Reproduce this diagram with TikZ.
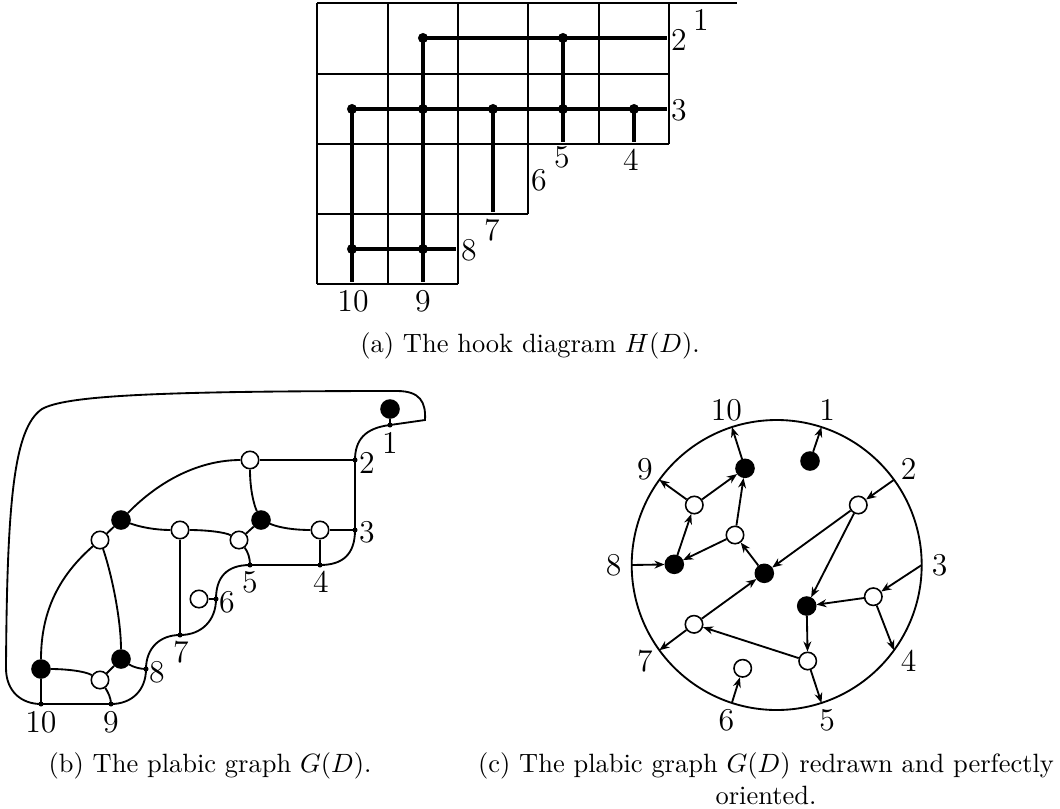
\documentclass[tikz,border=0pt]{standalone}
\usetikzlibrary{arrows.meta}
\begin{document}
\begin{tikzpicture}[x=0.378pt,y=-0.378pt,
  gline/.style={line width=0.75pt},
  hookln/.style={line width=1.15pt},
  hdot/.style={circle,fill=black,inner sep=0pt,minimum size=3.8pt},
  bdot/.style={circle,fill=black,inner sep=0pt,minimum size=1.9pt},
  wv/.style={circle,draw=black,fill=white,line width=0.6pt,inner sep=0pt,minimum size=6.6pt},
  bv/.style={circle,draw=black,fill=black,line width=0.6pt,inner sep=0pt,minimum size=6.8pt},
  lab/.style={font=\large,inner sep=0pt},
  pe/.style={line width=0.7pt},
  arr/.style={line width=0.7pt,-{Stealth[length=3.8pt,width=3pt]}},
]
\useasboundingbox (0,0) rectangle (1060,808);

% ---------- (a) hook diagram ----------
\draw[gline] (317,3) -- (737,3);
\draw[gline] (317,74) -- (669,74);
\draw[gline] (317,144) -- (669,144);
\draw[gline] (317,214) -- (528,214);
\draw[gline] (317,284) -- (458,284);
\draw[gline] (317,3) -- (317,284);
\draw[gline] (388,3) -- (388,284);
\draw[gline] (458,3) -- (458,284);
\draw[gline] (528,3) -- (528,214);
\draw[gline] (599,3) -- (599,144);
\draw[gline] (669,3) -- (669,144);

\node[hdot] (d12) at (423,38) {};
\node[hdot] (d14) at (563,38) {};
\node[hdot] (d21) at (352,109) {};
\node[hdot] (d22) at (423,109) {};
\node[hdot] (d23) at (493,109) {};
\node[hdot] (d24) at (563,109) {};
\node[hdot] (d25) at (634,109) {};
\node[hdot] (d41) at (352,249) {};
\node[hdot] (d42) at (423,249) {};

\coordinate (e2) at (666.5,38);
\coordinate (e3) at (666.5,109);
\coordinate (e9) at (423,282);
\coordinate (e10) at (352,282);
\coordinate (e5) at (563,141.5);
\coordinate (e4) at (634,141.5);
\coordinate (e7) at (493,211.5);
\coordinate (e8) at (455.5,249);

\draw[hookln] (d12.center) -- (e2);
\draw[hookln] (d12.center) -- (e9);
\draw[hookln] (d14.center) -- (e5);
\draw[hookln] (d21.center) -- (e3);
\draw[hookln] (d21.center) -- (e10);
\draw[hookln] (d23.center) -- (e7);
\draw[hookln] (d25.center) -- (e4);
\draw[hookln] (d41.center) -- (e8);

\node[lab] (a1) at (701,20) {1};
\node[lab] (a2) at (679,40) {2};
\node[lab] (a3) at (679,110) {3};
\node[lab] (a4) at (631,160) {4};
\node[lab] (a5) at (562,157) {5};
\node[lab] (a6) at (539,180) {6};
\node[lab] (a7) at (492,230) {7};
\node[lab] (a8) at (469,250) {8};
\node[lab] (a10) at (353,301) {10};
\node[lab] (a9) at (423,301) {9};

\node (capa) at (530,346) {(a) The hook diagram $H(D)$.};

% ---------- (b) plabic graph ----------
\node[bdot] (p1) at (390,425) {};
\node[bdot] (p2) at (355,460) {};
\node[bdot] (p3) at (355,530) {};
\node[bdot] (p4) at (320,565) {};
\node[bdot] (p5) at (250,565) {};
\node[bdot] (p6) at (216,599) {};
\node[bdot] (p7) at (180,635) {};
\node[bdot] (p8) at (146,669) {};
\node[bdot] (p9) at (111,704) {};
\node[bdot] (p10) at (41,704) {};

\draw[pe] (p10.center) .. controls (22,704) and (6,692) .. (6,668)
  .. controls (7,500) and (14,428) .. (42,409)
  .. controls (65,396) and (150,391) .. (397,391)
  .. controls (420,391) and (426,402) .. (425,420)
  -- (p1.center) .. controls (365,428) and (355,440) .. (p2.center)
  -- (p3.center) .. controls (355,555) and (342,565) .. (p4.center)
  -- (p5.center) .. controls (226,565) and (216,578) .. (p6.center)
  .. controls (216,620) and (202,635) .. (p7.center)
  .. controls (160,635) and (146,648) .. (p8.center)
  .. controls (146,690) and (132,704) .. (p9.center) -- (p10.center);

\node[bv] (n1) at (390,409) {};
\node[wv] (w1) at (250,460) {};
\node[bv] (b1) at (121,520) {};
\node[bv] (b2) at (261,520) {};
\node[wv] (w2) at (180,530) {};
\node[wv] (w3) at (239,540) {};
\node[wv] (w4) at (320,530) {};
\node[wv] (w5) at (100,540) {};
\node[wv] (w6) at (199,599) {};
\node[bv] (b3) at (41,669) {};
\node[bv] (b4) at (121,659) {};
\node[wv] (w7) at (100,680) {};

\draw[pe] (n1) -- (p1.center);
\draw[pe] (w1) -- (p2.center);
\draw[pe] (b1) .. controls (160,480) and (200,460) .. (w1);
\draw[pe] (b1) -- (w5);
\draw[pe] (b1) .. controls (140,527) and (155,530) .. (w2);
\draw[pe] (w2) .. controls (205,530) and (225,532) .. (w3);
\draw[pe] (w3) -- (b2);
\draw[pe] (b2) .. controls (254,505) and (250,490) .. (w1);
\draw[pe] (b2) .. controls (280,528) and (295,530) .. (w4);
\draw[pe] (w4) -- (p3.center);
\draw[pe] (w4) -- (p4.center);
\draw[pe] (w3) .. controls (248,552) and (250,558) .. (p5.center);
\draw[pe] (w2) -- (p7.center);
\draw[pe] (w6) -- (p6.center);
\draw[pe] (w5) .. controls (60,575) and (41,610) .. (b3);
\draw[pe] (w5) .. controls (112,575) and (121,620) .. (b4);
\draw[pe] (b3) .. controls (65,669) and (85,671) .. (w7);
\draw[pe] (w7) -- (b4);
\draw[pe] (b4) .. controls (133,667) and (140,669) .. (p8.center);
\draw[pe] (w7) .. controls (108,692) and (111,698) .. (p9.center);
\draw[pe] (b3) -- (p10.center);

\node[lab] (l1) at (390,443) {1};
\node[lab] (l2) at (367,463) {2};
\node[lab] (l3) at (367,532) {3};
\node[lab] (l4) at (321,582) {4};
\node[lab] (l5) at (250,582) {5};
\node[lab] (l6) at (227,602) {6};
\node[lab] (l7) at (181,652) {7};
\node[lab] (l8) at (157,672) {8};
\node[lab] (l9) at (111,722) {9};
\node[lab] (l10) at (41,722) {10};

\node (capb) at (210,766) {(b) The plabic graph $G(D)$.};

% ---------- (c) perfectly oriented ----------
\coordinate (C) at (776.7,565);
\draw[pe] (C) circle[radius=145];
\path (C) ++(-72:145) coordinate (q1);
\path (C) ++(-36:145) coordinate (q2);
\path (C) ++(0:145) coordinate (q3);
\path (C) ++(36:145) coordinate (q4);
\path (C) ++(72:145) coordinate (q5);
\path (C) ++(108:145) coordinate (q6);
\path (C) ++(144:145) coordinate (q7);
\path (C) ++(180:145) coordinate (q8);
\path (C) ++(216:145) coordinate (q9);
\path (C) ++(252:145) coordinate (q10);
\path (C) ++(-72:163) node[lab] (c1) {1};
\path (C) ++(-36:163) node[lab] (c2) {2};
\path (C) ++(0:163) node[lab] (c3) {3};
\path (C) ++(36:163) node[lab] (c4) {4};
\path (C) ++(72:163) node[lab] (c5) {5};
\path (C) ++(108:163) node[lab] (c6) {6};
\path (C) ++(144:163) node[lab] (c7) {7};
\path (C) ++(180:163) node[lab] (c8) {8};
\path (C) ++(216:163) node[lab] (c9) {9};
\path (C) ++(252:163) node[lab] (c10) {10};

\node[bv] (ba) at (745,468.3) {};
\node[bv] (bb) at (810,461) {};
\node[wv] (wa) at (694.3,505) {};
\node[wv] (wb) at (858.3,505) {};
\node[wv] (wc) at (735,535) {};
\node[bv] (bc) at (674.3,564.3) {};
\node[bv] (bd) at (764.3,573.3) {};
\node[wv] (wd) at (873.3,596.7) {};
\node[bv] (be) at (806.7,606) {};
\node[wv] (we) at (694,624.3) {};
\node[wv] (wf) at (807.7,661) {};
\node[wv] (wg) at (742.7,668.3) {};

\draw[arr] (ba) -- (q10);
\draw[arr] (bb) -- (q1);
\draw[arr] (wa) -- (q9);
\draw[arr] (wa) -- (ba);
\draw[arr] (wc) -- (ba);
\draw[arr] (wc) -- (bc);
\draw[arr] (bc) -- (wa);
\draw[arr] (q8) -- (bc);
\draw[arr] (bd) -- (wc);
\draw[arr] (wb) -- (bd);
\draw[arr] (q2) -- (wb);
\draw[arr] (wb) -- (be);
\draw[arr] (q3) -- (wd);
\draw[arr] (wd) -- (be);
\draw[arr] (wd) -- (q4);
\draw[arr] (be) -- (wf);
\draw[arr] (wf) -- (q5);
\draw[arr] (wf) -- (we);
\draw[arr] (we) -- (bd);
\draw[arr] (we) -- (q7);
\draw[arr] (q6) -- (wg);

\node[align=center] (capc) at (766,779) {(c) The plabic graph $G(D)$ redrawn and perfectly\\oriented.};
\end{tikzpicture}
\end{document}
